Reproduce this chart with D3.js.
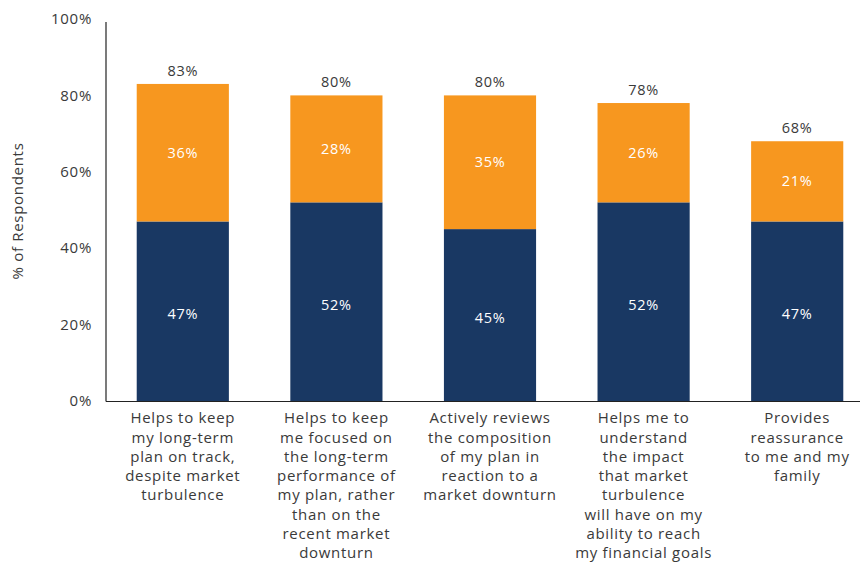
<!DOCTYPE html>
<html>
<head>
<meta charset="utf-8">
<script src="https://cdn.jsdelivr.net/npm/d3@7/dist/d3.min.js"></script>
<style>
  body { margin: 0; background: #fff; }
  svg { display: block; font-family: "Open Sans", "Lato", sans-serif; letter-spacing: 0.7px; }
</style>
</head>
<body>
<svg id="chart" width="860" height="563"></svg>
<script>
const categories = [
  ["Helps to keep", "my long-term", "plan on track,", "despite market", "turbulence"],
  ["Helps to keep", "me focused on", "the long-term", "performance of", "my plan, rather", "than on the", "recent market", "downturn"],
  ["Actively reviews", "the composition", "of my plan in", "reaction to a", "market downturn"],
  ["Helps me to", "understand", "the impact", "that market", "turbulence", "will have on my", "ability to reach", "my financial goals"],
  ["Provides", "reassurance", "to me and my", "family"]
];
const bottomValues = [47, 52, 45, 52, 47];
const topValues = [36, 28, 35, 26, 21];
const totalValues = [83, 80, 80, 78, 68];
const yTicks = [0, 20, 40, 60, 80, 100];

const svg = d3.select("#chart");
const plotLeft = 106, plotRight = 874, plotTop = 19, plotBottom = 401;

const x = d3.scaleBand().domain(d3.range(categories.length))
  .range([plotLeft, plotRight]).paddingInner(0.4).paddingOuter(0.2);
const y = d3.scaleLinear().domain([0, 100]).range([plotBottom, plotTop]);

const navy = "#193863", orange = "#F7971F", textCol = "#3a3a3a";

// y tick labels
svg.append("g").selectAll("text").data(yTicks).join("text")
  .attr("x", 92).attr("y", d => y(d)).attr("dy", "0.35em")
  .attr("text-anchor", "end").attr("font-size", 15).attr("fill", textCol)
  .text(d => d + "%");

// y axis title
svg.append("text")
  .attr("transform", `translate(18,211) rotate(-90)`)
  .attr("dy", "0.35em")
  .attr("text-anchor", "middle").attr("font-size", 15).attr("fill", textCol)
  .text("% of Respondents");

// stacked bars
const g = svg.append("g");
g.selectAll("rect.bottom").data(bottomValues).join("rect")
  .attr("x", (d, i) => x(i)).attr("width", x.bandwidth())
  .attr("y", d => y(d)).attr("height", d => y(0) - y(d))
  .attr("fill", navy);
g.selectAll("rect.top").data(topValues).join("rect")
  .attr("x", (d, i) => x(i)).attr("width", x.bandwidth())
  .attr("y", (d, i) => y(bottomValues[i] + d))
  .attr("height", (d, i) => y(bottomValues[i]) - y(bottomValues[i] + d))
  .attr("fill", orange);

// segment labels
g.selectAll("text.bl").data(bottomValues).join("text")
  .attr("x", (d, i) => x(i) + x.bandwidth() / 2)
  .attr("y", d => (y(0) + y(d)) / 2 + 3).attr("dy", "0.35em")
  .attr("text-anchor", "middle").attr("font-size", 14.5).attr("fill", "#fff")
  .text(d => d + "%");
g.selectAll("text.tl").data(topValues).join("text")
  .attr("x", (d, i) => x(i) + x.bandwidth() / 2)
  .attr("y", (d, i) => (y(bottomValues[i]) + y(bottomValues[i] + d)) / 2).attr("dy", "0.35em")
  .attr("text-anchor", "middle").attr("font-size", 14.5).attr("fill", "#fff")
  .text(d => d + "%");
g.selectAll("text.tot").data(totalValues).join("text")
  .attr("x", (d, i) => x(i) + x.bandwidth() / 2)
  .attr("y", (d, i) => y(bottomValues[i] + topValues[i]) - 13).attr("dy", "0.35em")
  .attr("text-anchor", "middle").attr("font-size", 14.5).attr("fill", textCol)
  .text(d => d + "%");

// axes lines
svg.append("line").attr("x1", plotLeft).attr("x2", plotLeft).attr("y1", 22).attr("y2", plotBottom + 0.5)
  .attr("stroke", "#222").attr("stroke-width", 1.2);
svg.append("line").attr("x1", plotLeft).attr("x2", 860).attr("y1", plotBottom + 0.5).attr("y2", plotBottom + 0.5)
  .attr("stroke", "#222").attr("stroke-width", 1.2);

// category labels
const cat = svg.append("g").selectAll("text").data(categories).join("text")
  .attr("x", (d, i) => x(i) + x.bandwidth() / 2)
  .attr("y", 418)
  .attr("text-anchor", "middle").attr("font-size", 15).attr("fill", textCol);
cat.selectAll("tspan").data(d => d).join("tspan")
  .attr("x", function () { return this.parentNode.getAttribute("x"); })
  .attr("dy", (d, j) => j === 0 ? "0.35em" : "19.3px")
  .text(d => d);
</script>
</body>
</html>
